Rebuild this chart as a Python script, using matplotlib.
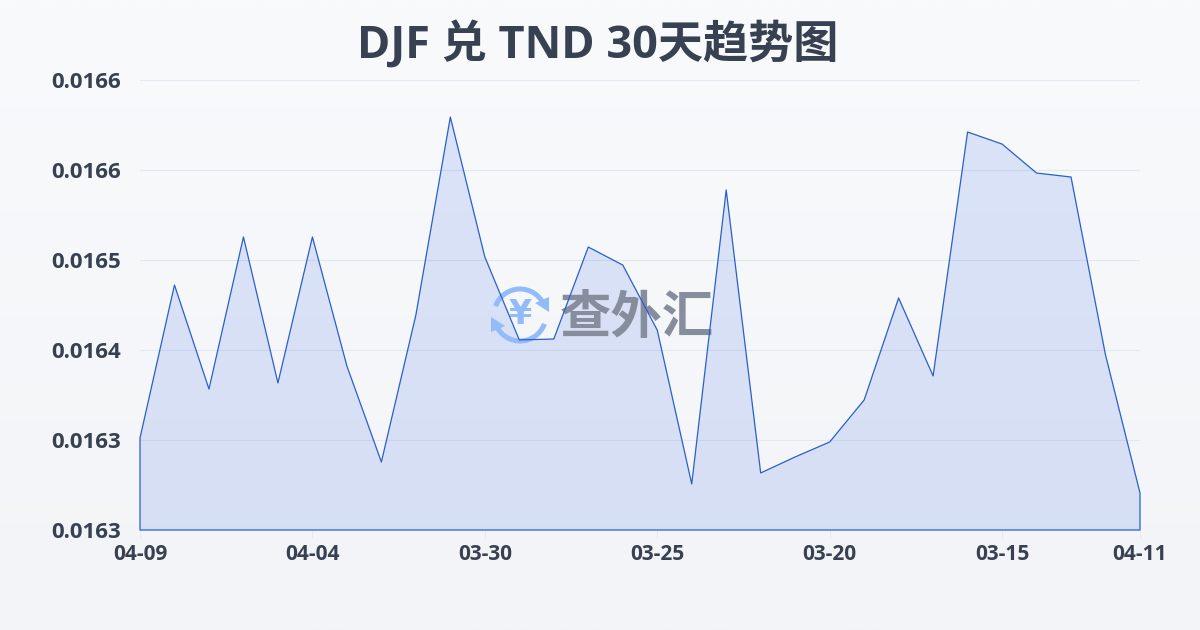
import numpy as np
import matplotlib
matplotlib.use("Agg")
import matplotlib.pyplot as plt
from matplotlib.patches import Arc, Polygon

plt.rcParams['font.family'] = ['Open Sans', 'Noto Sans CJK SC', 'DejaVu Sans']

title = "DJF 兑 TND 30天趋势图"
dates = ["04-09", "04-08", "04-07", "04-06", "04-05", "04-04", "04-03", "04-02", "04-01", "03-31",
         "03-30", "03-29", "03-28", "03-27", "03-26", "03-25", "03-24", "03-23", "03-22", "03-21",
         "03-20", "03-19", "03-18", "03-17", "03-16", "03-15", "03-14", "03-13", "03-12", "04-11"]
rates = [0.0163495, 0.0164651, 0.0163865, 0.0165014, 0.0163911, 0.0165014, 0.0164039, 0.0163314,
         0.0164424, 0.0165920, 0.0164863, 0.0164236, 0.0164243, 0.0164938, 0.0164802, 0.0164311,
         0.0163148, 0.0165369, 0.0163231, 0.0163352, 0.0163465, 0.0163782, 0.0164553, 0.0163964,
         0.0165807, 0.0165716, 0.0165497, 0.0165467, 0.0164122, 0.0163080]
y_ticks = [0.01628, 0.016348, 0.016416, 0.016484, 0.016552, 0.01662]
x_tick_idx = [0, 5, 10, 15, 20, 25, 29]

W, H = 1200, 630
fig = plt.figure(figsize=(12, 6.3), dpi=100)

# background gradient
bg = fig.add_axes([0, 0, 1, 1], zorder=0)
top = np.array([0xf8, 0xfa, 0xfc]) / 255
bot = np.array([0xf2, 0xf4, 0xf7]) / 255
t = np.linspace(0, 1, 256)[:, None, None]
bg.imshow(top * (1 - t) + bot * t, aspect='auto', extent=[0, W, H, 0])
bg.set_xlim(0, W); bg.set_ylim(H, 0); bg.axis('off')

# main chart
ax = fig.add_axes([140/W, 1 - 530/H, 1000/W, 450/H], zorder=1)
ax.patch.set_alpha(0)
x = np.arange(len(rates))
ax.fill_between(x, rates, y_ticks[0], facecolor=(0.17, 0.37, 0.88, 0.14),
                edgecolor='none', linewidth=0, zorder=3)
ax.fill_between(x, rates, y_ticks[0], facecolor='none',
                edgecolor="#2b5fc9", linewidth=0.9, zorder=5, clip_on=False)

# watermark (pixel coordinates), above the fill and below the outline
logo = "#93bbf9"
px = bg.transData
cx, cy, r = 520, 315, 26
ax.add_patch(Arc((cx, cy), 2*r, 2*r, theta1=200, theta2=335, color=logo, lw=3.6, transform=px, zorder=4))
ax.add_patch(Arc((cx, cy), 2*r, 2*r, theta1=20, theta2=155, color=logo, lw=3.6, transform=px, zorder=4))
ax.add_patch(Polygon([[549, 297], [549, 312], [535, 303]], closed=True, color=logo, lw=0, transform=px, zorder=4))
ax.add_patch(Polygon([[491, 317], [491, 332], [505, 326]], closed=True, color=logo, lw=0, transform=px, zorder=4))
ax.text(cx, cy - 1, "¥", color=logo, fontsize=24, fontweight='bold', ha='center', va='center',
        family='DejaVu Sans', transform=px, zorder=4)
ax.text(637, 317, "查外汇", color="#868d9c", fontsize=37, fontweight='bold', ha='center', va='center',
        family='Noto Sans CJK SC', transform=px, zorder=4)

ax.set_xlim(0, len(rates) - 1)
ax.set_ylim(y_ticks[0], y_ticks[-1])
ax.set_yticks(y_ticks)
ax.set_yticklabels([f"{v:.4f}" for v in y_ticks])
ax.set_xticks(x_tick_idx)
ax.set_xticklabels([dates[i] for i in x_tick_idx])
ax.grid(axis='y', color="#e2e8f0", linewidth=0.8, zorder=2)
for s in ax.spines.values():
    s.set_visible(False)
ax.tick_params(axis='y', length=0, pad=14, labelsize=16, labelcolor="#374151")
ax.tick_params(axis='x', length=6, width=0.7, color="#e5e9ee", pad=4, labelsize=15, labelcolor="#374151")
for lab in ax.get_xticklabels() + ax.get_yticklabels():
    lab.set_fontweight('bold')

fig.text(598/W, 1 - 46/H, title, ha='center', va='center', fontsize=32.5, fontweight='bold', color="#374151")

fig.savefig("out.png", dpi=100)
